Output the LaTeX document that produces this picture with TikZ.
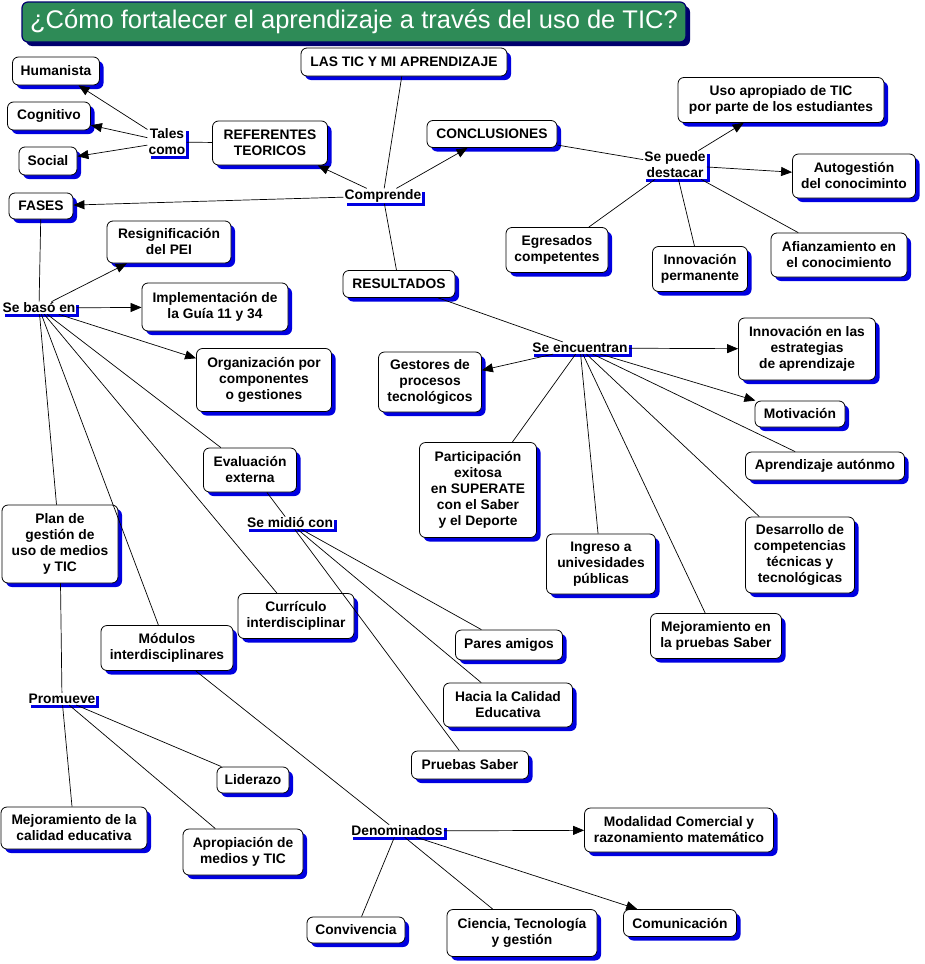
\documentclass[tikz,border=0pt]{standalone}
\usepackage{fontspec}
\setmainfont{Liberation Sans}
\usepackage{tikz}
\usetikzlibrary{arrows.meta,shadows}
\definecolor{titlegreen}{RGB}{46,139,87}
\definecolor{titleshadow}{RGB}{0,0,110}
\definecolor{shadowblue}{RGB}{0,0,225}

\tikzset{
  concept/.style={draw, fill=white, rounded corners=6pt, line width=0.8pt,
    align=center, inner sep=2pt, font=\fontsize{13.8}{16}\selectfont\bfseries,
    drop shadow={shadow xshift=4pt, shadow yshift=-4pt, fill=shadowblue, opacity=1}},
  linker/.style={fill=white, inner sep=1pt, align=center,
    font=\fontsize{13.8}{16}\selectfont\bfseries,
    drop shadow={shadow xshift=3pt, shadow yshift=-3pt, fill=shadowblue, opacity=1}},
  headbox/.style={draw=titleshadow, fill=titlegreen, line width=1.2pt, rounded corners=6pt,
    text=white, font=\fontsize{25.5}{30}\selectfont,
    drop shadow={shadow xshift=4pt, shadow yshift=-4pt, fill=titleshadow, opacity=1}},
  wh/.style 2 args={minimum width=#1, minimum height=#2},
  conn/.style={line width=0.7pt},
  conarr/.style={line width=0.7pt, -{Triangle[length=11pt,width=9pt]}},
}

\begin{document}
\begin{tikzpicture}[x=1pt,y=-1pt]
  \useasboundingbox (0,0) rectangle (924,964);
  % Title
  \node[headbox, wh={664}{40}] (title) at (354,22)
    {¿Cómo fortalecer el aprendizaje a través del uso de TIC?};
  % Center
  \node[concept, wh={206}{28}] (tic) at (404,62) {LAS TIC Y MI APRENDIZAJE};
  \node[linker] (comp) at (383,196) {Comprende};
  \node[concept, wh={115}{44}] (ref) at (270,143) {REFERENTES\\TEORICOS};
  \node[concept, wh={130}{27}] (concl) at (492,134) {CONCLUSIONES};
  \node[concept, wh={64}{26}] (fases) at (41,206) {FASES};
  \node[concept, wh={112}{27}] (res) at (399,284) {RESULTADOS};
  % Referentes
  \node[linker] (tales) at (167,142) {Tales\\como};
  \node[concept, wh={87}{28}] (hum) at (56,71) {Humanista};
  \node[concept, wh={83}{28}] (cog) at (49,116) {Cognitivo};
  \node[concept, wh={58}{28}] (soc) at (48,161) {Social};
  % Conclusiones
  \node[linker] (dest) at (675,165) {Se puede\\destacar};
  \node[concept, wh={206}{45}] (uso) at (781,100) {Uso apropiado de TIC\\por parte de los estudiantes};
  \node[concept, wh={123}{44}] (auto) at (854,176) {Autogestión\\del conociminto};
  \node[concept, wh={102}{45}] (egr) at (557,250) {Egresados\\competentes};
  \node[concept, wh={95}{45}] (innp) at (700,269) {Innovación\\permanente};
  \node[concept, wh={136}{44}] (afi) at (839,255) {Afianzamiento en\\el conocimiento};
  % Fases
  \node[linker] (baso) at (39,308) {Se basó en};
  \node[concept, wh={124}{42}] (resig) at (169,242) {Resignificación\\del PEI};
  \node[concept, wh={146}{48}] (impl) at (215,307) {Implementación de\\la Guía 11 y 34};
  \node[concept, wh={135}{63}] (org) at (264,380) {Organización por\\componentes\\o gestiones};
  \node[concept, wh={93}{44}] (eval) at (250,470) {Evaluación\\externa};
  \node[linker] (midio) at (290,523) {Se midió con};
  \node[concept, wh={116}{78}] (plan) at (60,544) {Plan de\\gestión de\\uso de medios\\y TIC};
  \node[concept, wh={116}{45}] (curr) at (296,616) {Currículo\\interdisciplinar};
  \node[concept, wh={132}{45}] (mod) at (167,648) {Módulos\\interdisciplinares};
  \node[concept, wh={107}{30}] (pares) at (509,645) {Pares amigos};
  \node[concept, wh={129}{44}] (hacia) at (508,705) {Hacia la Calidad\\Educativa};
  \node[concept, wh={117}{28}] (pruebas) at (470,765) {Pruebas Saber};
  % Promueve
  \node[linker] (prom) at (62,699) {Promueve};
  \node[concept, wh={72}{26}] (lider) at (253,780) {Liderazo};
  \node[concept, wh={146}{42}] (mejc) at (74,828) {Mejoramiento de la\\calidad educativa};
  \node[concept, wh={120}{46}] (aprop) at (243,852) {Apropiación de\\medios y TIC};
  % Denominados
  \node[linker] (denom) at (397,831) {Denominados};
  \node[concept, wh={189}{44}] (modal) at (679,830) {Modalidad Comercial y\\razonamiento matemático};
  \node[concept, wh={98}{26}] (conv) at (356,930) {Convivencia};
  \node[concept, wh={150}{47}] (cien) at (522,933) {Ciencia, Tecnología\\y gestión};
  \node[concept, wh={113}{27}] (comun) at (680,923) {Comunicación};
  % Resultados
  \node[linker] (enc) at (580,348) {Se encuentran};
  \node[concept, wh={137}{62}] (innE) at (807,349) {Innovación en las\\estrategias\\de aprendizaje};
  \node[concept, wh={103}{60}] (gest) at (430,382) {Gestores de\\procesos\\tecnológicos};
  \node[concept, wh={90}{26}] (motiv) at (800,414) {Motivación};
  \node[concept, wh={159}{28}] (apr) at (825,466) {Aprendizaje autónmo};
  \node[concept, wh={117}{95}] (part) at (478,490) {Participación\\exitosa\\en SUPERATE\\con el Saber\\y el Deporte};
  \node[concept, wh={109}{60}] (ingr) at (601,564) {Ingreso a\\univesidades\\públicas};
  \node[concept, wh={109}{76}] (desa) at (800,555) {Desarrollo de\\competencias\\técnicas y\\tecnológicas};
  \node[concept, wh={131}{45}] (mejp) at (716,636) {Mejoramiento en\\la pruebas Saber};

  % Connections
  \draw[conn] (tic) -- (comp);
  \draw[conn] (comp) -- (res);
  \draw[conarr] (comp) -- (ref);
  \draw[conarr] (comp) -- (concl);
  \draw[conarr] (comp) -- (fases);
  \draw[conn] (ref) -- (tales);
  \draw[conarr] (tales) -- (hum);
  \draw[conarr] (tales) -- (cog);
  \draw[conarr] (tales) -- (soc);
  \draw[conn] (concl) -- (dest);
  \draw[conarr] (dest) -- (uso);
  \draw[conarr] (dest) -- (auto);
  \draw[conn] (dest) -- (egr);
  \draw[conn] (dest) -- (innp);
  \draw[conn] (dest) -- (afi);
  \draw[conn] (fases) -- (baso);
  \draw[conarr] (baso) -- (resig);
  \draw[conarr] (baso) -- (impl);
  \draw[conarr] (baso) -- (org);
  \draw[conn] (baso) -- (eval);
  \draw[conn] (baso) -- (curr);
  \draw[conn] (baso) -- (mod);
  \draw[conn] (baso) -- (plan);
  \draw[conn] (eval) -- (midio);
  \draw[conn] (midio) -- (pares);
  \draw[conn] (midio) -- (hacia);
  \draw[conn] (midio) -- (pruebas);
  \draw[conn] (plan) -- (prom);
  \draw[conn] (prom) -- (mejc);
  \draw[conn] (prom) -- (aprop);
  \draw[conn] (prom) -- (lider);
  \draw[conn] (mod) -- (denom);
  \draw[conarr] (denom) -- (modal);
  \draw[conarr] (denom) -- (comun);
  \draw[conn] (denom) -- (conv);
  \draw[conn] (denom) -- (cien);
  \draw[conn] (res) -- (enc);
  \draw[conarr] (enc) -- (innE);
  \draw[conarr] (enc) -- (gest);
  \draw[conarr] (enc) -- (motiv);
  \draw[conn] (enc) -- (apr);
  \draw[conn] (enc) -- (desa);
  \draw[conn] (enc) -- (mejp);
  \draw[conn] (enc) -- (ingr);
  \draw[conn] (enc) -- (part);
\end{tikzpicture}
\end{document}
